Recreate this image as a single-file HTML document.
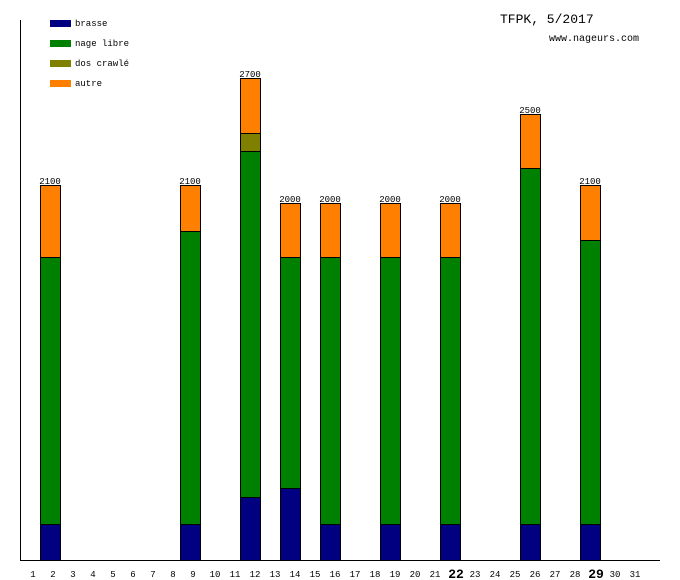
<!DOCTYPE html>
<html><head><meta charset="utf-8"><style>body{margin:0;background:#fff}svg{display:block}</style></head><body>
<svg width="680" height="580" xmlns="http://www.w3.org/2000/svg" font-family="Liberation Mono, DejaVu Sans Mono, monospace">
<rect width="680" height="580" fill="#fff"/>
<line x1="20.5" y1="20" x2="20.5" y2="560" stroke="#000"/>
<line x1="20" y1="560.5" x2="660" y2="560.5" stroke="#000"/>
<g font-size="9">
<rect x="50" y="20" width="21" height="7" fill="#000080"/><text x="75" y="26">brasse</text>
<rect x="50" y="40" width="21" height="7" fill="#008000"/><text x="75" y="46">nage libre</text>
<rect x="50" y="60" width="21" height="7" fill="#808000"/><text x="75" y="66">dos crawlé</text>
<rect x="50" y="80" width="21" height="7" fill="#ff8000"/><text x="75" y="86">autre</text>
</g>
<text x="500" y="23" font-size="13">TFPK, 5/2017</text>
<text x="549" y="41" font-size="10">www.nageurs.com</text>
<g stroke="#000" stroke-width="1">
<!-- day 2 -->
<rect x="40.5" y="524.5" width="20" height="36" fill="#000080"/><rect x="40.5" y="257.5" width="20" height="267" fill="#008000"/><rect x="40.5" y="185.5" width="20" height="72" fill="#ff8000"/>
<!-- day 9 -->
<rect x="180.5" y="524.5" width="20" height="36" fill="#000080"/><rect x="180.5" y="231.5" width="20" height="293" fill="#008000"/><rect x="180.5" y="185.5" width="20" height="46" fill="#ff8000"/>
<!-- day 12 -->
<rect x="240.5" y="497.5" width="20" height="63" fill="#000080"/><rect x="240.5" y="151.5" width="20" height="346" fill="#008000"/><rect x="240.5" y="133.5" width="20" height="18" fill="#808000"/><rect x="240.5" y="78.5" width="20" height="55" fill="#ff8000"/>
<!-- day 14 -->
<rect x="280.5" y="488.5" width="20" height="72" fill="#000080"/><rect x="280.5" y="257.5" width="20" height="231" fill="#008000"/><rect x="280.5" y="203.5" width="20" height="54" fill="#ff8000"/>
<!-- 16 -->
<rect x="320.5" y="524.5" width="20" height="36" fill="#000080"/><rect x="320.5" y="257.5" width="20" height="267" fill="#008000"/><rect x="320.5" y="203.5" width="20" height="54" fill="#ff8000"/>
<!-- 19 -->
<rect x="380.5" y="524.5" width="20" height="36" fill="#000080"/><rect x="380.5" y="257.5" width="20" height="267" fill="#008000"/><rect x="380.5" y="203.5" width="20" height="54" fill="#ff8000"/>
<!-- 22 -->
<rect x="440.5" y="524.5" width="20" height="36" fill="#000080"/><rect x="440.5" y="257.5" width="20" height="267" fill="#008000"/><rect x="440.5" y="203.5" width="20" height="54" fill="#ff8000"/>
<!-- 26 -->
<rect x="520.5" y="524.5" width="20" height="36" fill="#000080"/><rect x="520.5" y="168.5" width="20" height="356" fill="#008000"/><rect x="520.5" y="114.5" width="20" height="54" fill="#ff8000"/>
<!-- 29 -->
<rect x="580.5" y="524.5" width="20" height="36" fill="#000080"/><rect x="580.5" y="240.5" width="20" height="284" fill="#008000"/><rect x="580.5" y="185.5" width="20" height="55" fill="#ff8000"/>
</g>
<g font-size="9" text-anchor="middle">
<text x="50" y="184">2100</text><text x="190" y="184">2100</text><text x="250" y="77">2700</text>
<text x="290" y="202">2000</text><text x="330" y="202">2000</text><text x="390" y="202">2000</text>
<text x="450" y="202">2000</text><text x="530" y="113">2500</text><text x="590" y="184">2100</text>
</g>
<g font-size="9" text-anchor="middle">
<text x="33" y="577">1</text><text x="53" y="577">2</text><text x="73" y="577">3</text><text x="93" y="577">4</text><text x="113" y="577">5</text><text x="133" y="577">6</text><text x="153" y="577">7</text><text x="173" y="577">8</text><text x="193" y="577">9</text><text x="215" y="577">10</text><text x="235" y="577">11</text><text x="255" y="577">12</text><text x="275" y="577">13</text><text x="295" y="577">14</text><text x="315" y="577">15</text><text x="335" y="577">16</text><text x="355" y="577">17</text><text x="375" y="577">18</text><text x="395" y="577">19</text><text x="415" y="577">20</text><text x="435" y="577">21</text><text x="456" y="578" font-size="13" font-weight="bold">22</text><text x="475" y="577">23</text><text x="495" y="577">24</text><text x="515" y="577">25</text><text x="535" y="577">26</text><text x="555" y="577">27</text><text x="575" y="577">28</text><text x="596" y="578" font-size="13" font-weight="bold">29</text><text x="615" y="577">30</text><text x="635" y="577">31</text>
</g>
</svg>
</body></html>
